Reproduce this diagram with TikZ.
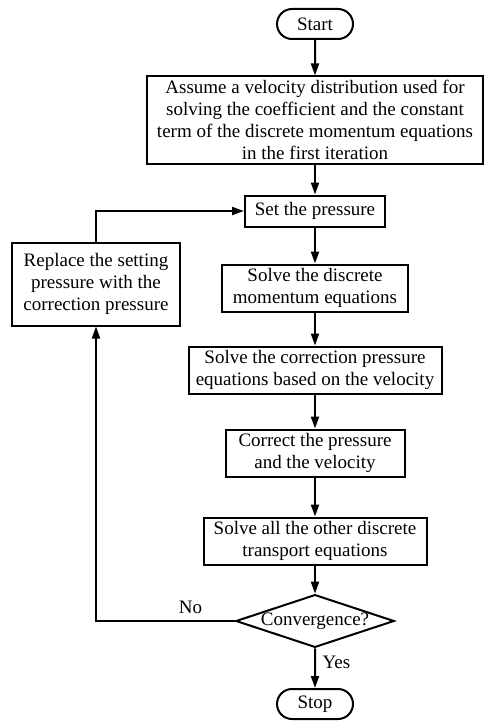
\documentclass[tikz,border=0pt]{standalone}
\usepackage{fontspec}
\setmainfont{Liberation Serif}
\usetikzlibrary{shapes.geometric,shapes.misc,arrows.meta}
\tikzset{
  box/.style={draw, line width=1pt, align=center, inner sep=1pt, font=\fontsize{9.5}{11}\selectfont},
  term/.style={box, rounded rectangle, minimum width=40pt, minimum height=15pt},
  cond/.style={box, diamond, aspect=3, inner sep=0pt},
  flow/.style={line width=1pt, -{Triangle[length=6pt,width=4pt]}}
}
\begin{document}
\begin{tikzpicture}[x=0.5pt,y=-0.5pt]
  \useasboundingbox (0,0) rectangle (484,722);
  \node[term] (start) at (315,24) {Start};
  \node[box, minimum width=168pt, minimum height=43.5pt] (assume) at (315,120) {Assume a velocity distribution used for\\solving the coefficient and the constant\\term of the discrete momentum equations\\in the first iteration};
  \node[box, minimum width=70pt, minimum height=15.5pt] (press) at (315,211) {Set the pressure};
  \node[box, minimum width=93pt, minimum height=23.5pt] (mom) at (315,288) {Solve the discrete\\momentum equations};
  \node[box, minimum width=126.5pt, minimum height=23.5pt] (corr) at (315,370) {Solve the correction pressure\\equations based on the velocity};
  \node[box, minimum width=89.5pt, minimum height=23.5pt] (fix) at (315,453) {Correct the pressure\\and the velocity};
  \node[box, minimum width=111.5pt, minimum height=23.5pt] (other) at (315,541) {Solve all the other discrete\\transport equations};
  \node[cond] (conv) at (315,621) {Convergence?};
  \node[term] (stop) at (315,704) {Stop};
  \node[box, minimum width=84pt, minimum height=41.5pt] (repl) at (96,284) {Replace the setting\\pressure with the\\correction pressure};
  \foreach \a/\b in {start/assume,assume/press,press/mom,mom/corr,corr/fix,fix/other,other/conv}
    {\draw[flow] (\a) -- (\b);}
  \draw[flow] (conv) -- node[right, pos=0.35, font=\fontsize{9.5}{11}\selectfont] {Yes} (stop);
  \draw[flow] (conv.west) -| node[above, pos=0.16, font=\fontsize{9.5}{11}\selectfont] {No} (repl.south);
  \draw[flow] (repl.north) |- (press.west);
\end{tikzpicture}
\end{document}
